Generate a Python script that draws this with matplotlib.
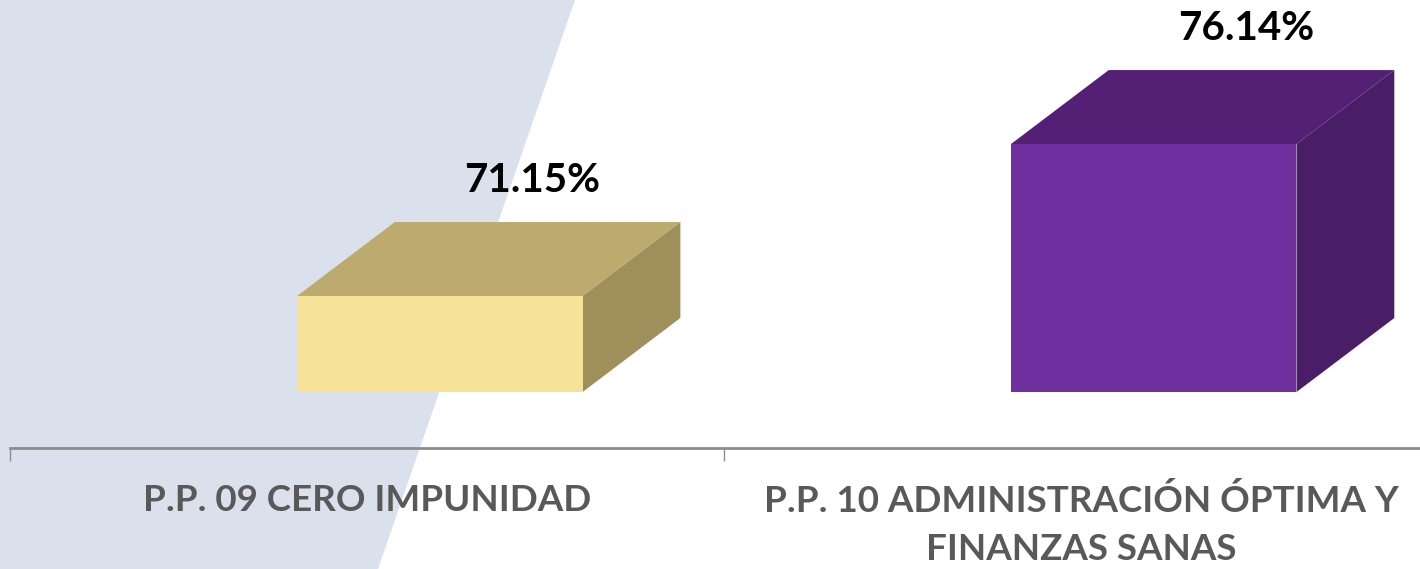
import matplotlib
matplotlib.use("Agg")
import matplotlib.pyplot as plt
from matplotlib.patches import Polygon

categories = ["P.P. 09 CERO IMPUNIDAD", "P.P. 10 ADMINISTRACIÓN ÓPTIMA Y\nFINANZAS SANAS"]
values = [71.15, 76.14]
labels = ["71.15%", "76.14%"]
front_colors = ["#F7E397", "#6F2F9F"]
top_colors = ["#BDAA6F", "#532076"]
side_colors = ["#9E8F5B", "#4A1E66"]

base = 68.0
axis_level = 66.16
width = 0.4
shift = 0.102
dx = 0.137
dy = 2.43

plt.rcParams['font.family'] = ['Lato', 'DejaVu Sans']

fig = plt.figure(figsize=(14.2, 5.69), dpi=100)
ax = fig.add_axes([0, 0, 1, 1])
ax.set_xlim(-0.514, 1.475)
ax.set_ylim(62.19, 80.87)

# light diagonal background band on the left
ax.add_patch(Polygon([[0, 1], [575 / 1420, 1], [378 / 1420, 0], [0, 0]],
                     closed=True, transform=ax.transAxes,
                     facecolor="#DAE0EC", edgecolor="none", zorder=0))

for i, v in enumerate(values):
    x0 = i + shift - width / 2
    x1 = x0 + width
    ax.bar(i + shift, v - base, bottom=base, width=width, color=front_colors[i], zorder=3)
    ax.add_patch(Polygon([[x0, v], [x1, v], [x1 + dx, v + dy], [x0 + dx, v + dy]],
                         facecolor=top_colors[i], edgecolor="none", zorder=2))
    ax.add_patch(Polygon([[x1, base], [x1, v], [x1 + dx, v + dy], [x1 + dx, base + dy]],
                         facecolor=side_colors[i], edgecolor="none", zorder=2))
    ax.annotate(labels[i], (i + shift + 0.13, v + dy), xytext=(0, 30),
                textcoords="offset points", ha="center", va="center",
                fontsize=29, fontweight="bold", color="black")

for s in ["top", "left", "right"]:
    ax.spines[s].set_visible(False)
ax.spines["bottom"].set_position(("data", axis_level))
ax.spines["bottom"].set_bounds(-0.5, 1.475)
ax.spines["bottom"].set_color("#8C8C8C")
ax.spines["bottom"].set_linewidth(2)
ax.set_yticks([])
ax.set_xticks([-0.5, 0.5])
ax.set_xticklabels([])
ax.tick_params(axis="x", length=9, width=1, color="#8C8C8C", direction="out")
ax.set_xticks([0, 1], minor=True)
ax.set_xticklabels(categories, minor=True, fontsize=26.5, fontweight="bold",
                   color="#595959", linespacing=1.55, va="top")
ax.tick_params(axis="x", which="minor", length=0, pad=26)

fig.savefig("out.png", dpi=100)
